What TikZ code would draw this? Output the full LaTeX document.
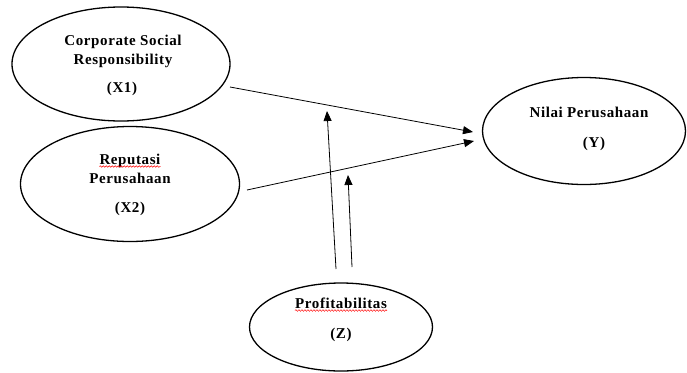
\documentclass[tikz,border=0pt]{standalone}
\usepackage{fontspec}
\setmainfont{Liberation Serif}
\newfontfamily\lblfont[LetterSpace=4]{Liberation Serif}
\usetikzlibrary{shapes.geometric,arrows.meta,decorations.pathmorphing}
\begin{document}
\begin{tikzpicture}[x=1pt,y=-1pt,
  ell/.style={draw,ellipse,line width=1.3pt,inner sep=0pt},
  lbl/.style={font=\lblfont\fontsize{15}{17}\selectfont\bfseries,inner sep=0pt,anchor=base},
  arr/.style={line width=0.8pt,-{Triangle[length=10pt,width=8pt]}},
  squig/.style={red,line width=0.5pt,decorate,decoration={snake,amplitude=0.8pt,segment length=3pt}}]
\useasboundingbox (0,0) rectangle (687,372);
\node[ell,minimum width=218pt,minimum height=114pt] (x1) at (121,64) {};
\node[ell,minimum width=219pt,minimum height=115pt] (x2) at (130,184) {};
\node[ell,minimum width=203pt,minimum height=107pt] (y) at (584,131) {};
\node[ell,minimum width=183pt,minimum height=88pt] (z) at (341,327) {};
% texts
\node[lbl] (x1a) at (123,45) {Corporate Social};
\node[lbl] (x1b) at (123,64) {Responsibility};
\node[lbl] (x1c) at (122,92) {(X1)};
\node[lbl] (x2a) at (130,164) {Reputasi};
\node[lbl] (x2b) at (130,183) {Perusahaan};
\node[lbl] (x2c) at (130,212) {(X2)};
\node[lbl] (ya) at (589,117) {Nilai Perusahaan};
\node[lbl] (yb) at (594,147) {(Y)};
\node[lbl] (za) at (341,308) {Profitabilitas};
\node[lbl] (zb) at (341,338) {(Z)};
\draw[squig] ([yshift=-2.5pt]x2a.base west) -- ([yshift=-2.5pt]x2a.base east);
\draw[squig] ([yshift=-2.5pt]za.base west) -- ([yshift=-2.5pt]za.base east);
% connector endpoints
\coordinate (s1) at (230,87);
\coordinate (e1) at (473,132);
\coordinate (s2) at (247,190);
\coordinate (e2) at (474,141);
\coordinate (s3) at (336,269);
\coordinate (e3) at (327,111);
\coordinate (s4) at (352,267);
\coordinate (e4) at (348,175);
\draw[arr] (s1) -- (e1);
\draw[arr] (s2) -- (e2);
\draw[arr] (s3) -- (e3);
\draw[arr] (s4) -- (e4);
\end{tikzpicture}
\end{document}
